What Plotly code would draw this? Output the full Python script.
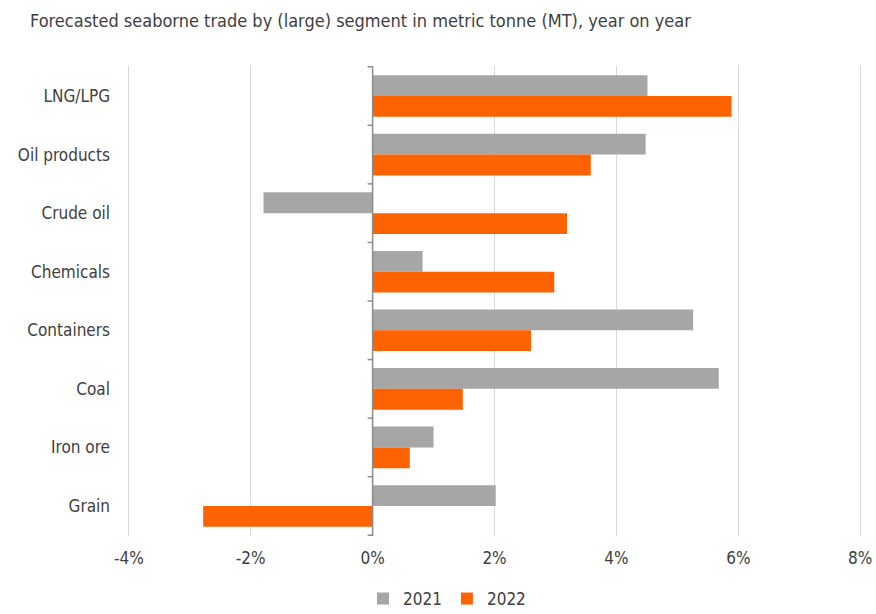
import plotly.graph_objects as go

categories = ["LNG/LPG", "Oil products", "Crude oil", "Chemicals", "Containers", "Coal", "Iron ore", "Grain"]
values_2021 = [4.51, 4.48, -1.79, 0.82, 5.26, 5.68, 1.00, 2.02]
values_2022 = [5.89, 3.58, 3.19, 2.98, 2.60, 1.48, 0.61, -2.78]
x_ticks = [-4, -2, 0, 2, 4, 6, 8]
x_tick_labels = ["-4%", "-2%", "0%", "2%", "4%", "6%", "8%"]
title_text = "Forecasted seaborne trade by (large) segment in metric tonne (MT), year on year"

GRAY = "#a6a6a6"
ORANGE = "#ff6200"
TEXT = "#404040"
FONT = "DejaVu Sans Condensed, DejaVu Sans"

fig = go.Figure()
fig.add_trace(go.Bar(y=categories, x=values_2021, name="2021", orientation="h",
                     marker=dict(color=GRAY, line=dict(width=0))))
fig.add_trace(go.Bar(y=categories, x=values_2022, name="2022", orientation="h",
                     marker=dict(color=ORANGE, line=dict(width=0))))

shapes = [dict(type="line", xref="x", yref="paper", x0=0, x1=0, y0=0, y1=1,
               line=dict(color="#8c8c8c", width=1.5), layer="above")]
for i in range(len(categories) + 1):
    shapes.append(dict(type="line", xref="x", yref="y", xsizemode="pixel", xanchor=0,
                       x0=-5, x1=0, y0=i - 0.5, y1=i - 0.5,
                       line=dict(color="#8c8c8c", width=1.5), layer="above"))

fig.update_layout(
    width=876, height=614,
    margin=dict(l=127, r=14, t=66, b=78),
    paper_bgcolor="white", plot_bgcolor="white",
    barmode="group", bargap=0.29, bargroupgap=0,
    font=dict(family=FONT, color=TEXT, size=16),
    title=dict(text=title_text, x=30 / 876, xref="container", xanchor="left",
               y=1 - 21 / 614, yref="container", yanchor="middle",
               font=dict(family=FONT, size=18, color=TEXT)),
    xaxis=dict(range=[-4.03, 8.03], tickvals=x_ticks, ticktext=x_tick_labels,
               showgrid=True, gridcolor="#d9d9d9", gridwidth=1, zeroline=False,
               showline=False, ticks="", ticklabelstandoff=10,
               tickfont=dict(size=17, color=TEXT), automargin=False,
               fixedrange=True),
    yaxis=dict(categoryorder="array", categoryarray=categories, autorange="reversed",
               showgrid=False, zeroline=False, showline=False, ticks="",
               ticklabelstandoff=16, tickfont=dict(size=17, color=TEXT),
               automargin=False),
    legend=dict(orientation="h", xref="container", x=447 / 876, xanchor="center",
                yref="container", y=15 / 614, yanchor="middle",
                font=dict(size=17, color=TEXT), itemwidth=30, traceorder="normal"),
    shapes=shapes,
    showlegend=True,
)

fig.write_html("out.html")
